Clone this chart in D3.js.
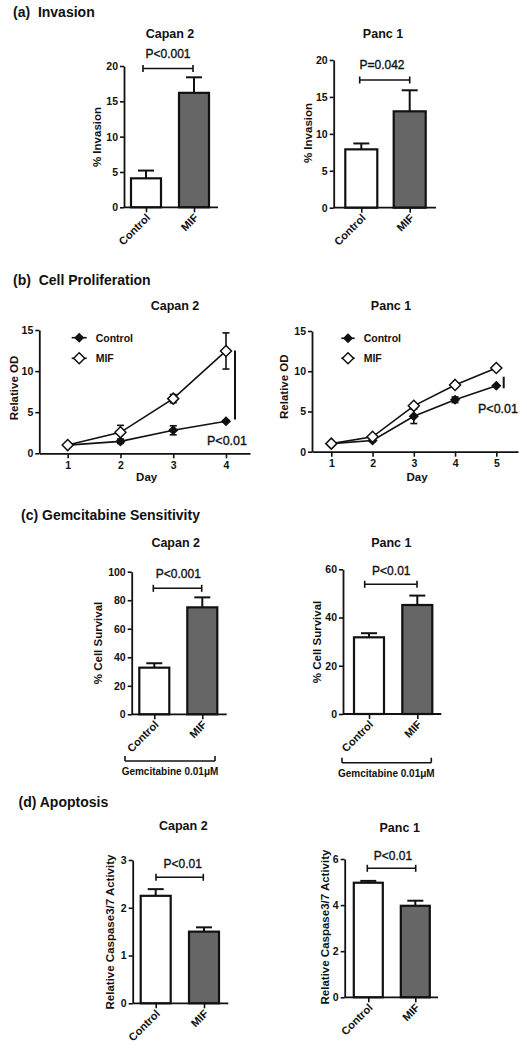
<!DOCTYPE html>
<html><head><meta charset="utf-8">
<script src="https://cdn.jsdelivr.net/npm/d3@7"></script>
<style>
body{margin:0;background:#fff}
svg{display:block}
text{font-family:"Liberation Sans",Arial,Helvetica,sans-serif;fill:#111}
</style>
</head><body>
<svg id="c" width="527" height="1050"></svg>
<script>
// ---------- data ----------
const categories = ["Control", "MIF"];
const invasionCapan = [4.1, 16.2];
const invasionCapanErr = [1.1, 2.2];
const invasionPanc = [7.9, 13.05];
const invasionPancErr = [0.8, 2.85];
const survivalCapan = [32.7, 75.0];
const survivalCapanErr = [3.1, 7.0];
const survivalPanc = [31.8, 45.2];
const survivalPancErr = [1.7, 3.9];
const caspaseCapan = [2.25, 1.50];
const caspaseCapanErr = [0.14, 0.09];
const caspasePanc = [4.97, 3.97];
const caspasePancErr = [0.08, 0.22];

const daysCapan = [1, 2, 3, 4];
const odCapanControl = [1.0, 1.45, 2.8, 3.9];
const odCapanControlErr = [0.15, 0.25, 0.55, 0.1];
const odCapanMIF = [1.0, 2.55, 6.65, 12.45];
const odCapanMIFErr = [0.1, 0.85, 0.5, 2.2];

const daysPanc = [1, 2, 3, 4, 5];
const odPancControl = [1.0, 1.4, 4.4, 6.45, 8.2];
const odPancControlErr = [0.1, 0.15, 0.9, 0.35, 0.1];
const odPancMIF = [1.0, 1.85, 5.7, 8.3, 10.4];
const odPancMIFErr = [0.1, 0.1, 0.2, 0.15, 0.15];

const ticksInvasion = [0, 5, 10, 15, 20];
const ticksOD = [0, 5, 10, 15];
const ticksSurvivalCapan = [0, 20, 40, 60, 80, 100];
const ticksSurvivalPanc = [0, 20, 40, 60];
const ticksCaspaseCapan = [0, 1, 2, 3];
const ticksCaspasePanc = [0, 2, 4, 6];

const panelTitles = ["(a)  Invasion", "(b)  Cell Proliferation", "(c) Gemcitabine Sensitivity", "(d) Apoptosis"];
const cellLines = ["Capan 2", "Panc 1"];
const seriesNames = ["Control", "MIF"];
const drugLabel = "Gemcitabine 0.01\u03BCM";

// ---------- drawing ----------
const svg = d3.select("#c");
const FILL = ["#ffffff", "#666666"];
const fmt = d3.format("d");

function styleAxis(g) {
  g.selectAll("path.domain").attr("stroke", "#111").attr("stroke-width", 1.8);
  g.selectAll(".tick line").attr("stroke", "#111").attr("stroke-width", 1.6);
  g.selectAll(".tick text").attr("font-size", 10.5).attr("font-weight", "bold").attr("fill", "#111")
    .attr("font-family", '"Liberation Sans",Arial,sans-serif');
}

function bracket(x1, x2, y) {
  const g = svg.append("g").attr("stroke", "#111").attr("stroke-width", 1.6).attr("fill", "none");
  g.append("line").attr("x1", x1).attr("x2", x2).attr("y1", y).attr("y2", y);
  g.append("line").attr("x1", x1).attr("x2", x1).attr("y1", y - 3.5).attr("y2", y + 3.5);
  g.append("line").attr("x1", x2).attr("x2", x2).attr("y1", y - 3.5).attr("y2", y + 3.5);
}

function txt(x, y, s, opts) {
  opts = opts || {};
  const t = svg.append("text").attr("x", x).attr("y", y).text(s)
    .attr("font-size", opts.size || 12)
    .attr("font-weight", opts.weight || "bold")
    .attr("text-anchor", opts.anchor || "middle")
    .style("white-space", "pre");
  if (opts.medium) t.attr("stroke", "#111").attr("stroke-width", 0.35);
  if (opts.rotate) t.attr("transform", `rotate(${opts.rotate},${x},${y})`);
  return t;
}

function barPanel(o) {
  const y = d3.scaleLinear().domain([0, d3.max(o.ticks)]).range([o.yb, o.yt]);
  const x = d3.scalePoint().domain(categories).range(o.cx);
  const g = svg.append("g");
  const data = categories.map((c, i) => ({c, v: o.values[i], e: o.errs[i], i}));

  g.selectAll("line.eb").data(data).join("line")
    .attr("x1", d => x(d.c)).attr("x2", d => x(d.c))
    .attr("y1", d => y(d.v)).attr("y2", d => y(d.v + d.e))
    .attr("stroke", "#111").attr("stroke-width", 2);
  g.selectAll("line.cap").data(data).join("line")
    .attr("x1", d => x(d.c) - 8).attr("x2", d => x(d.c) + 8)
    .attr("y1", d => y(d.v + d.e)).attr("y2", d => y(d.v + d.e))
    .attr("stroke", "#111").attr("stroke-width", 2);
  g.selectAll("rect").data(data).join("rect")
    .attr("x", d => x(d.c) - o.bw / 2 + 1).attr("y", d => y(d.v))
    .attr("width", o.bw - 2).attr("height", d => y(0) - y(d.v))
    .attr("fill", d => FILL[d.i]).attr("stroke", "#111").attr("stroke-width", 2.2);

  const ya = svg.append("g").attr("transform", `translate(${o.ax},0)`)
    .call(d3.axisLeft(y).tickValues(o.ticks).tickFormat(fmt).tickSize(4).tickSizeOuter(0).tickPadding(2));
  styleAxis(ya);
  const xa = svg.append("g").attr("transform", `translate(0,${o.yb})`)
    .call(d3.axisBottom(x).tickSize(5).tickSizeOuter(0).tickFormat(""));
  xa.select("path.domain").attr("d", `M${o.ax},0H${o.xEnd}`);
  styleAxis(xa);
  svg.append("g").selectAll("text").data(categories).join("text")
    .attr("transform", d => `translate(${x(d) + 5},${o.yb + 11}) rotate(-45)`)
    .attr("text-anchor", "end").attr("font-size", 11).attr("font-weight", "bold").text(d => d);

  txt(o.lx, o.ly, o.ylabel, {size: 11.5, rotate: -90});
  txt(o.tx, o.ty, o.title, {size: 12.5});
  txt(o.px, o.py, o.ptext, {size: 12, weight: "normal", medium: true});
  bracket(o.bx[0], o.bx[1], o.by);
}

function diamond(r) { return `M0,${-r}L${r},0L0,${r}L${-r},0Z`; }

function linePanel(o) {
  const x = d3.scaleLinear().domain(o.xdom).range([o.ax, o.xEnd]);
  const y = d3.scaleLinear().domain([0, 15]).range([o.yb, o.yt]);
  const series = [
    {name: seriesNames[0], v: o.ctrl, e: o.ctrlErr, filled: true},
    {name: seriesNames[1], v: o.mif, e: o.mifErr, filled: false}
  ];
  const line = d3.line().x(d => x(d[0])).y(d => y(d[1]));
  series.forEach(s => {
    const pts = o.days.map((d, i) => [d, s.v[i], s.e[i]]);
    const g = svg.append("g");
    pts.forEach(p => {
      g.append("line").attr("x1", x(p[0])).attr("x2", x(p[0]))
        .attr("y1", y(p[1] - p[2])).attr("y2", y(p[1] + p[2])).attr("stroke", "#111").attr("stroke-width", 1.6);
      [p[1] - p[2], p[1] + p[2]].forEach(v => g.append("line")
        .attr("x1", x(p[0]) - 3.5).attr("x2", x(p[0]) + 3.5).attr("y1", y(v)).attr("y2", y(v))
        .attr("stroke", "#111").attr("stroke-width", 1.6));
    });
    g.append("path").attr("d", line(pts)).attr("fill", "none").attr("stroke", "#111").attr("stroke-width", 1.6);
    g.selectAll("path.m").data(pts).join("path").attr("class", "m")
      .attr("transform", p => `translate(${x(p[0])},${y(p[1])})`)
      .attr("d", s.filled ? diamond(4) : diamond(5.5))
      .attr("fill", s.filled ? "#111" : "#fff").attr("stroke", "#111").attr("stroke-width", 1.5);
  });
  const ya = svg.append("g").attr("transform", `translate(${o.ax},0)`)
    .call(d3.axisLeft(y).tickValues(ticksOD).tickFormat(fmt).tickSize(4).tickSizeOuter(0).tickPadding(2));
  styleAxis(ya);
  const xa = svg.append("g").attr("transform", `translate(0,${o.yb})`)
    .call(d3.axisBottom(x).tickValues(o.days).tickSize(5).tickSizeOuter(0).tickPadding(3).tickFormat(fmt));
  styleAxis(xa);
  txt((o.ax + o.xEnd) / 2 + 2, 481, "Day", {size: 11.5});
  txt(o.lx, o.ly, "Relative OD", {size: 11.5, rotate: -90});
  txt(o.tx, o.ty, o.title, {size: 12.5});
  series.forEach((s, i) => {
    const ly = o.legY[i];
    svg.append("line").attr("x1", o.legX[0]).attr("x2", o.legX[1]).attr("y1", ly).attr("y2", ly)
      .attr("stroke", "#111").attr("stroke-width", 1.6);
    svg.append("path").attr("transform", `translate(${(o.legX[0] + o.legX[1]) / 2},${ly})`)
      .attr("d", s.filled ? diamond(4) : diamond(5.5))
      .attr("fill", s.filled ? "#111" : "#fff").attr("stroke", "#111").attr("stroke-width", 1.5);
    txt(o.legX[1] + 9, ly + 3.8, s.name, {size: 10.5, anchor: "start"});
  });
  svg.append("line").attr("x1", o.sx).attr("x2", o.sx).attr("y1", o.sy[0]).attr("y2", o.sy[1])
    .attr("stroke", "#111").attr("stroke-width", 2);
  txt(o.px, o.py, "P<0.01", {size: 12.5, weight: "normal", anchor: "end", medium: true});
}

txt(13, 17, panelTitles[0], {size: 14, anchor: "start"});
txt(13, 285, panelTitles[1], {size: 14, anchor: "start"});
txt(21, 520, panelTitles[2], {size: 14, anchor: "start"});
txt(18.5, 806.5, panelTitles[3], {size: 14, anchor: "start"});

barPanel({values: invasionCapan, errs: invasionCapanErr, ticks: ticksInvasion,
  ax: 124, yb: 207.3, yt: 66, xEnd: 218, cx: [146, 194], bw: 32,
  ylabel: "% Invasion", lx: 101, ly: 137, title: cellLines[0], tx: 170, ty: 38,
  ptext: "P<0.001", px: 168, py: 58.3, bx: [143, 193], by: 68.5});
barPanel({values: invasionPanc, errs: invasionPancErr, ticks: ticksInvasion,
  ax: 333.7, yb: 207.7, yt: 60, xEnd: 436, cx: [361.3, 409.7], bw: 34,
  ylabel: "% Invasion", lx: 312, ly: 133, title: cellLines[1], tx: 383, ty: 38,
  ptext: "P=0.042", px: 382, py: 69, bx: [359.7, 409.7], by: 80});

linePanel({days: daysCapan, ctrl: odCapanControl, ctrlErr: odCapanControlErr, mif: odCapanMIF, mifErr: odCapanMIFErr,
  ax: 39.3, xEnd: 250, xdom: [0.462, 4.455], yb: 453.3, yt: 330,
  lx: 18, ly: 388, title: cellLines[0], tx: 175, ty: 310,
  legX: [71.7, 86.7], legY: [337.7, 358.3], sx: 235, sy: [350.5, 419.5], px: 247, py: 445});
linePanel({days: daysPanc, ctrl: odPancControl, ctrlErr: odPancControlErr, mif: odPancMIF, mifErr: odPancMIFErr,
  ax: 312, xEnd: 518, xdom: [0.532, 5.526], yb: 451.7, yt: 331,
  lx: 288.5, ly: 386.7, title: cellLines[1], tx: 391, ty: 310,
  legX: [341.3, 354.7], legY: [338.3, 358.3], sx: 503.7, sy: [376.7, 388.3], px: 518, py: 413.3});

barPanel({values: survivalCapan, errs: survivalCapanErr, ticks: ticksSurvivalCapan,
  ax: 131.7, yb: 714.3, yt: 571.7, xEnd: 226.7, cx: [154.3, 202.3], bw: 32,
  ylabel: "% Cell Survival", lx: 102, ly: 643, title: cellLines[0], tx: 175.7, ty: 546.7,
  ptext: "P<0.001", px: 178.3, py: 578.3, bx: [153.3, 201.7], by: 588.3});
barPanel({values: survivalPanc, errs: survivalPancErr, ticks: ticksSurvivalPanc,
  ax: 343, yb: 714, yt: 569.3, xEnd: 441.3, cx: [369, 417.3], bw: 32,
  ylabel: "% Cell Survival", lx: 321, ly: 642, title: cellLines[1], tx: 391.3, ty: 546.7,
  ptext: "P<0.01", px: 391.3, py: 575, bx: [364.7, 417], by: 584.3});

[[125, 215, 761, 170, 775], [342, 431.3, 762.7, 386.3, 776.7]].forEach(b => {
  const g = svg.append("g").attr("stroke", "#111").attr("stroke-width", 1.6);
  g.append("line").attr("x1", b[0]).attr("x2", b[1]).attr("y1", b[2]).attr("y2", b[2]);
  g.append("line").attr("x1", b[0]).attr("x2", b[0]).attr("y1", b[2] - 5).attr("y2", b[2]);
  g.append("line").attr("x1", b[1]).attr("x2", b[1]).attr("y1", b[2] - 5).attr("y2", b[2]);
  txt(b[3], b[4], drugLabel, {size: 10});
});

barPanel({values: caspaseCapan, errs: caspaseCapanErr, ticks: ticksCaspaseCapan,
  ax: 132.7, yb: 1003.3, yt: 860, xEnd: 228.3, cx: [155.7, 204], bw: 32,
  ylabel: "Relative Caspase3/7 Activity", lx: 114, ly: 932, title: cellLines[0], tx: 183.3, ty: 830,
  ptext: "P<0.01", px: 182.7, py: 868.3, bx: [156, 203.3], by: 877.3});
barPanel({values: caspasePanc, errs: caspasePancErr, ticks: ticksCaspasePanc,
  ax: 344.7, yb: 997.3, yt: 859, xEnd: 438, cx: [368.3, 415.3], bw: 31,
  ylabel: "Relative Caspase3/7 Activity", lx: 328.5, ly: 927, title: cellLines[1], tx: 399.7, ty: 831.7,
  ptext: "P<0.01", px: 393, py: 860, bx: [367.3, 415.7], by: 868.3});
</script>
</body></html>
